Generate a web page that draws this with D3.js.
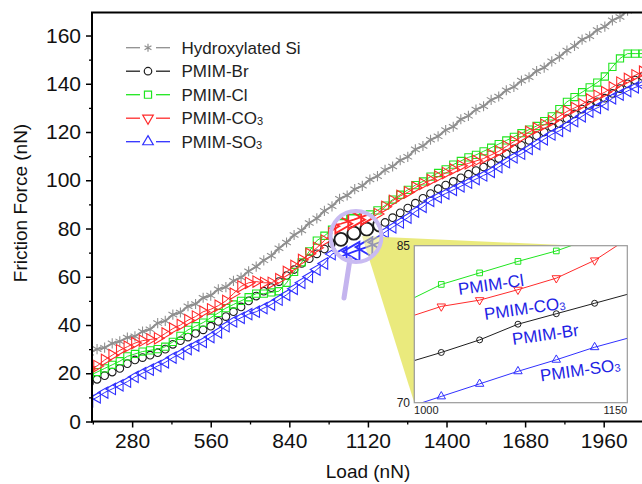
<!DOCTYPE html>
<html>
<head>
<meta charset="utf-8">
<script src="https://cdn.jsdelivr.net/npm/d3@7"></script>
<style>
  body { margin: 0; background: #fff; }
  svg { display: block; font-family: "Liberation Sans", Arial, sans-serif; }
</style>
</head>
<body>
<svg id="chart" width="642" height="484"></svg>
<script>
// sampled loads (nN)
const loads = [128,155,182,209,236,263,290,317,344,371,398,425,452,479,506,533,560,587,614,641,
  668,695,722,749,776,803,830,857,884,911,938,965,992,1019,1046,1073,1100,1127,1154,1181,
  1208,1235,1262,1289,1316,1343,1370,1397,1424,1451,1478,1505,1532,1559,1586,1613,1640,1667,1694,1721,
  1748,1775,1802,1829,1856,1883,1910,1937,1964,1991,2018,2045,2072,2099];

// friction force (nN)
const hydroxylatedSi = [28.5,30,30.6,32.4,33.2,34.8,35.3,37.3,38.2,40.8,
  41.7,44.3,45.2,47.8,48.7,51.3,52.2,54.8,55.7,58.3,
  59.7,62.3,64.2,66.8,68.7,71.8,74.2,77.3,79.2,82.3,
  84.2,87.3,89.2,92.3,93.7,96.3,97.7,100.3,101.7,104.3,
  105.7,108.3,109.7,112.8,114.2,116.8,118.2,120.8,122.2,125.3,
  126.7,129.3,130.7,133.3,134.7,137.3,138.7,141.3,142.7,145.3,
  146.7,149.3,151.2,153.8,155.7,158.3,159.7,162.3,163.7,166.3,
  167.7,170.3,171.7,174];
const pmimBr = [16,17.5,19,20.5,22,24,25.5,26.5,27.5,28.5,
  30,32,33.5,35,36.5,38,39.5,41.5,43.5,45.5,
  47.5,50,52,54,55.5,58,60.5,63,65.5,67.5,
  69.5,71.5,73.7,74.8,76,77.5,78.5,79.5,80.5,82.5,
  84.5,86.5,88.5,90.5,92.5,94.5,96.5,98,99.5,101,
  102.5,104,105.5,107,109,111,113,114.5,116.5,118.5,
  120,122,123.5,125.5,127.5,129.5,131,132.5,134,136,
  138,140,141.5,143];
const pmimCl = [19,20.5,22,23.5,25,27,28,29,29.5,30,
  31,33,35.5,38,39.5,41,43,45,47,48.5,
  50,51.5,53,53,53.5,54,57.5,62,66,70.5,
  75,77,79.5,81.3,82.4,83.5,84.5,85.8,87.5,89.5,
  92,94,96,98,99.5,101.5,103,104.5,106.5,108,
  109.5,110.5,112,113.5,115,116.5,118,119.5,121,122.5,
  124.5,126.5,129.5,132.5,134.5,136.5,138.5,140.5,143,147,
  150.5,152.5,152.5,152.5];
const pmimCO3 = [22,23,25.5,27.5,29.5,31,32.5,33.5,34,34.5,
  36.5,38.5,40,42,43.5,45.5,46.5,48,50,53,
  56,57.5,58,57.5,57.5,59,62,64.5,67,69.5,
  72,75,78,79.2,79.8,80.8,81.9,83.6,86,89,
  91.5,93.5,95,97,98.5,100,101.5,103,104.5,106,
  107,108,109,110.5,112,114,116,118,120,121.5,
  123,124.5,126.5,128.5,130,131.5,133.5,135,136.5,138.5,
  140.5,142,143.5,145];
const pmimSO3 = [8.5,10,12,13.5,15,16.5,18.5,20,21.5,23,
  24.5,26.5,28,30,31.5,33,35,37,39.5,41.5,
  43,44.5,45.5,47,48.5,50.5,52.5,55,57.5,60,
  63,65.5,69.4,70.6,71.8,73,74.1,75.3,76.3,78.5,
  80.5,82.5,84.5,87,89,91.5,93,94.5,96,97.5,
  99,100.5,102,103.5,105.5,107.5,109.5,111,113,115,
  117,119,120.5,122.5,124.5,126.5,128.5,130,131.5,134,
  135.5,137,138.5,139.5];

const xTicks = [280, 560, 840, 1120, 1400, 1680, 1960];
const xMinor = [140, 420, 700, 980, 1260, 1540, 1820];
const yTicks = [0, 20, 40, 60, 80, 100, 120, 140, 160];
const yMinor = [10, 30, 50, 70, 90, 110, 130, 150];
const insetXTicks = [1000, 1150];
const insetYTicks = [70, 85];

const series = [
  {name: "Hydroxylated Si", sub: "", values: hydroxylatedSi, color: "#8f8f8f", lw: 2, symbol: d3.symbolAsterisk, size: 72, legSize: 40, rot: 0, legRot: 0, fill: "none"},
  {name: "PMIM-Br", sub: "", values: pmimBr, color: "#1e1e1e", lw: 1, symbol: d3.symbolCircle, size: 46, legSize: 40, rot: 0, legRot: 0, fill: "#fff"},
  {name: "PMIM-Cl", sub: "", values: pmimCl, color: "#1fe61f", lw: 1, symbol: d3.symbolSquare, size: 52, legSize: 46, rot: 0, legRot: 0, fill: "none"},
  {name: "PMIM-CO", sub: "3", values: pmimCO3, color: "#ff2b2b", lw: 1, symbol: d3.symbolTriangle, size: 56, legSize: 44, rot: 90, legRot: 180, fill: "none"},
  {name: "PMIM-SO", sub: "3", values: pmimSO3, color: "#3030ff", lw: 1, symbol: d3.symbolTriangle, size: 56, legSize: 44, rot: -90, legRot: 0, fill: "none"}
];

const svg = d3.select("#chart");
const plotLeft = 92, plotRight = 643, plotTop = 12.6, plotBottom = 421.5;

const x = d3.scaleLinear().domain([137, 2100]).range([plotLeft, plotRight]);
const y = d3.scaleLinear().domain([0, 169.5]).range([plotBottom, plotTop]);

const defs = svg.append("defs");
defs.append("clipPath").attr("id", "plotClip")
  .append("rect").attr("x", plotLeft).attr("y", plotTop)
  .attr("width", plotRight - plotLeft).attr("height", plotBottom - plotTop);

function drawSeries(g, xs, ys, opt) {
  const line = d3.line().x((d, i) => xs(loads[i])).y(d => ys(d));
  series.forEach(s => {
    g.append("path").datum(s.values)
      .attr("d", line)
      .attr("fill", "none")
      .attr("stroke", s.color)
      .attr("stroke-width", opt.inset ? 1 : s.lw);
    g.append("g").selectAll("path")
      .data(s.values)
      .join("path")
        .attr("transform", (d, i) => `translate(${xs(loads[i])},${ys(d)}) rotate(${opt.inset ? s.legRot : s.rot})`)
        .attr("d", d3.symbol(s.symbol, opt.inset ? s.legSize * 0.7 : s.size))
        .attr("fill", opt.inset ? "none" : s.fill)
        .attr("stroke", s.color)
        .attr("stroke-width", opt.mw);
  });
}

// main data
const plot = svg.append("g").attr("clip-path", "url(#plotClip)");
drawSeries(plot, x, y, {mw: 1.1, inset: false});

// yellow zoom wedge
svg.append("polygon")
  .attr("points", "362,236 578,245.7 414.3,402.7")
  .attr("fill", "#e8e872")
  .attr("opacity", 0.92);

// magnifier lens
const cx = 356, cy = 236.5, lr = 24;
defs.append("clipPath").attr("id", "lensClip")
  .append("circle").attr("cx", cx).attr("cy", cy).attr("r", lr);
const lens = svg.append("g").attr("clip-path", "url(#lensClip)");
lens.append("circle").attr("cx", cx).attr("cy", cy).attr("r", lr).attr("fill", "#fff");
const mag = lens.append("g").attr("transform", `translate(${cx},${cy}) scale(1.7) translate(${-cx},${-cy})`);
drawSeries(mag, x, y, {mw: 1.1, inset: false});
lens.append("polygon")
  .attr("points", "362,236 578,245.7 414.3,402.7")
  .attr("fill", "#e8e872")
  .attr("opacity", 0.55);
svg.append("line")
  .attr("x1", 350).attr("y1", 259).attr("x2", 344).attr("y2", 298)
  .attr("stroke", "#c4b4ee").attr("stroke-width", 5).attr("stroke-linecap", "round");
svg.append("circle").attr("cx", cx).attr("cy", cy).attr("r", lr + 1.5)
  .attr("fill", "none").attr("stroke", "#c9bbf2").attr("stroke-width", 4);

// inset
const ix = d3.scaleLinear().domain([1000, 1150]).range([414.3, 627.3]);
const iy = d3.scaleLinear().domain([70, 85]).range([402.7, 245.7]);
defs.append("clipPath").attr("id", "insetClip")
  .append("rect").attr("x", 414.3).attr("y", 245.7).attr("width", 213).attr("height", 157);
svg.append("rect").attr("x", 414.3).attr("y", 245.7).attr("width", 213).attr("height", 157)
  .attr("fill", "#fff");
const inset = svg.append("g").attr("clip-path", "url(#insetClip)");
drawSeries(inset, ix, iy, {mw: 1, inset: true});
svg.append("rect").attr("x", 414.3).attr("y", 245.7).attr("width", 213).attr("height", 157)
  .attr("fill", "none").attr("stroke", "#9a9a9a").attr("stroke-width", 1.2);
svg.append("g").selectAll("text").data(insetYTicks).join("text")
  .attr("x", 410).attr("y", d => iy(d) + 4.5)
  .attr("text-anchor", "end").attr("font-size", 12).attr("fill", "#222")
  .text(d => d);
svg.append("g").selectAll("text").data(insetXTicks).join("text")
  .attr("x", (d, i) => ix(d) + (i ? -12 : 12)).attr("y", 414)
  .attr("text-anchor", "middle").attr("font-size", 11).attr("fill", "#222")
  .text(d => d);

// inset labels
const insetLabels = [
  {name: "PMIM-Cl", sub: "", x: 459, y: 295},
  {name: "PMIM-CO", sub: "3", x: 485, y: 320},
  {name: "PMIM-Br", sub: "", x: 513, y: 345},
  {name: "PMIM-SO", sub: "3", x: 541, y: 381.5}
];
insetLabels.forEach(l => {
  const t = svg.append("text")
    .attr("transform", `translate(${l.x},${l.y}) rotate(-8)`)
    .attr("font-size", 17).attr("fill", "#2222e4");
  t.append("tspan").text(l.name);
  if (l.sub) t.append("tspan").attr("font-size", 11).attr("dy", 1).text(l.sub);
});

// axes
const font = "'Liberation Sans', Arial, sans-serif";
svg.append("g").attr("transform", `translate(${plotLeft},0)`)
  .call(d3.axisLeft(y).tickValues(yTicks).tickSize(6).tickPadding(5).tickFormat(d3.format("d")))
  .call(g => g.select(".domain").remove())
  .call(g => g.selectAll("line").attr("stroke-width", 1.5))
  .attr("font-size", 21).attr("font-family", font)
  .call(g => g.selectAll("text").attr("fill", "#111"));
svg.append("g").attr("transform", `translate(${plotLeft},0)`)
  .call(d3.axisLeft(y).tickValues(yMinor).tickSize(3).tickFormat(""))
  .call(g => g.select(".domain").remove())
  .call(g => g.selectAll("line").attr("stroke-width", 1.3));
svg.append("g").attr("transform", `translate(0,${plotBottom})`)
  .call(d3.axisBottom(x).tickValues(xTicks).tickSize(6).tickPadding(6).tickFormat(d3.format("d")))
  .call(g => g.select(".domain").remove())
  .call(g => g.selectAll("line").attr("stroke-width", 1.5))
  .attr("font-size", 21).attr("font-family", font)
  .call(g => g.selectAll("text").attr("fill", "#111"));
svg.append("g").attr("transform", `translate(0,${plotBottom})`)
  .call(d3.axisBottom(x).tickValues(xMinor).tickSize(3).tickFormat(""))
  .call(g => g.select(".domain").remove())
  .call(g => g.selectAll("line").attr("stroke-width", 1.3));

svg.append("line").attr("x1", plotLeft).attr("x2", plotLeft).attr("y1", plotTop).attr("y2", plotBottom + 1)
  .attr("stroke", "#000").attr("stroke-width", 2);
svg.append("line").attr("x1", plotLeft - 1).attr("x2", 642).attr("y1", plotTop).attr("y2", plotTop)
  .attr("stroke", "#000").attr("stroke-width", 2);
svg.append("line").attr("x1", plotLeft - 1).attr("x2", 642).attr("y1", plotBottom).attr("y2", plotBottom)
  .attr("stroke", "#000").attr("stroke-width", 2);

svg.append("text")
  .attr("transform", "translate(26.5,203) rotate(-90)")
  .attr("text-anchor", "middle").attr("font-size", 19).attr("fill", "#111")
  .text("Friction Force (nN)");
svg.append("text")
  .attr("x", 368).attr("y", 478)
  .attr("text-anchor", "middle").attr("font-size", 19).attr("fill", "#111")
  .text("Load (nN)");

// legend
const legend = svg.append("g");
series.forEach((s, i) => {
  const ly = 47.7 + i * 23.5;
  const g = legend.append("g").attr("transform", `translate(0,${ly})`);
  g.append("line").attr("x1", 126).attr("x2", 140).attr("stroke", s.color).attr("stroke-width", 1.3);
  g.append("line").attr("x1", 156).attr("x2", 170).attr("stroke", s.color).attr("stroke-width", 1.3);
  g.append("path")
    .attr("transform", `translate(148,0) rotate(${s.legRot})`)
    .attr("d", d3.symbol(s.symbol, s.legSize * 1.1))
    .attr("fill", "none").attr("stroke", s.color).attr("stroke-width", 1.2);
  const t = g.append("text").attr("x", 181.5).attr("y", 6).attr("font-size", 17).attr("fill", "#222");
  t.append("tspan").text(s.name);
  if (s.sub) t.append("tspan").attr("font-size", 11).attr("dy", 1).text(s.sub);
});
</script>
</body>
</html>
